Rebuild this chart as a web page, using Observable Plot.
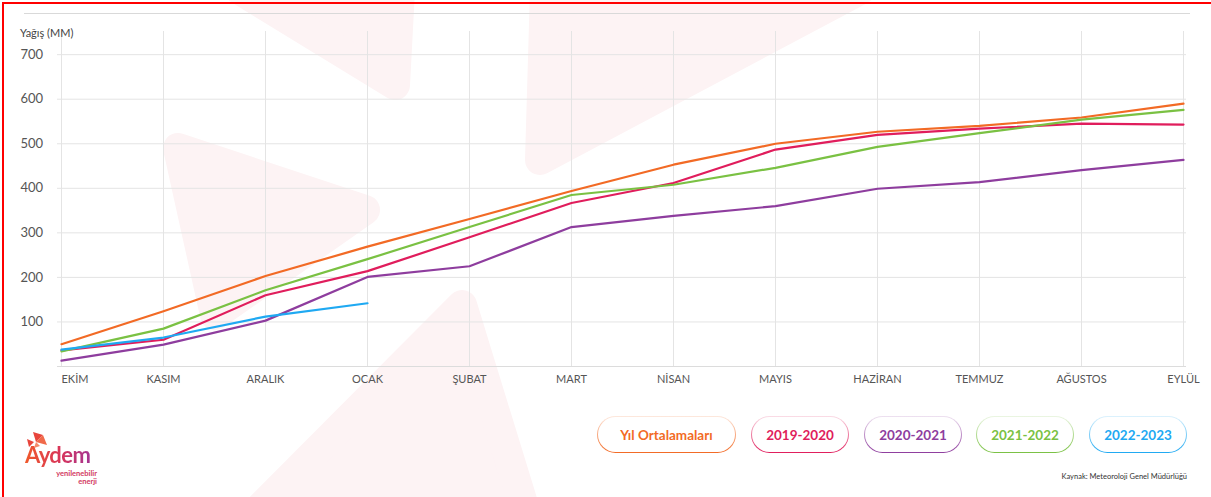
<!DOCTYPE html>
<html>
<head>
<meta charset="utf-8">
<script src="https://cdn.jsdelivr.net/npm/d3@7"></script>
<script src="https://cdn.jsdelivr.net/npm/@observablehq/plot@0.6"></script>
<style>
  html, body { margin: 0; padding: 0; background: #fff; }
  #wrap { position: relative; width: 1211px; height: 497px; overflow: hidden; font-family: Lato, "Open Sans", sans-serif; }
  #frame { position: absolute; left: 2px; top: 2px; right: -10px; bottom: -10px; border-top: 2px solid #ff0000; border-left: 2px solid #ff0000; z-index: 5; pointer-events: none; }
  #topline { position: absolute; left: 24px; top: 13px; width: 1166px; height: 1px; background: #d9d9d9; z-index: 2; }
  #wm { position: absolute; left: 0; top: 0; z-index: 0; }
  #chart { position: absolute; left: 0; top: 0; z-index: 1; }
  #ylabel { position: absolute; left: 20px; top: 26px; font-size: 11px; color: #444; z-index: 2; }
  .pill { position: absolute; top: 416px; height: 37px; box-sizing: border-box; border-radius: 19px; border: 1.5px solid transparent;
          display: flex; align-items: center; justify-content: center; font-weight: 700; font-size: 13.5px; z-index: 2; }
  #source { position: absolute; right: 24px; top: 472px; font-size: 7.5px; color: #333; z-index: 2; }
  #logo { position: absolute; left: 22px; top: 431px; width: 90px; height: 64px; z-index: 2; }
  #logo .word { position: absolute; left: 3px; top: 11px; font-size: 22px; font-weight: 700; letter-spacing: -0.6px; line-height: 26px;
                background: linear-gradient(90deg, #f0592a, #d8345a 55%, #a53592); -webkit-background-clip: text; background-clip: text; color: transparent; }
  #logo .sub { position: absolute; right: 15px; top: 39px; font-size: 7.5px; font-weight: 700; line-height: 8px; text-align: right; color: #d23a62; }
</style>
</head>
<body>
<div id="wrap">
  <svg id="wm" width="1211" height="497">
    <g fill="#fdf3f4" stroke="#fdf3f4" stroke-width="30" stroke-linejoin="round">
      <polygon points="240,-10 400,-10 395,85"/>
      <polygon points="545,-10 860,-10 540,160"/>
      <polygon points="178,148 365,210 215,315"/>
      <polygon points="462,305 258,510 525,510"/>
    </g>
  </svg>
  <div id="chart"></div>
  <div id="topline"></div>
  <div id="ylabel">Yağış (MM)</div>
  <div id="legend"></div>
  <div id="logo">
    <svg width="30" height="18" style="position:absolute;left:2px;top:0">
      <polygon points="9,1 19,4 12,11" fill="#e8453c"/>
      <polygon points="19,4 23,14 12,11" fill="#f06a4a"/>
      <polygon points="3,8 10,11 5,16" fill="#e8453c"/>
      <polygon points="12,11 16,15 10,17" fill="#f48a6a"/>
    </svg>
    <div class="word">Aydem</div>
    <div class="sub">yenilenebilir<br>enerji</div>
  </div>
  <div id="source">Kaynak: Meteoroloji Genel Müdürlüğü</div>
  <div id="frame"></div>
</div>
<script>
// ---- data ----
const months = ["EKİM","KASIM","ARALIK","OCAK","ŞUBAT","MART","NİSAN","MAYIS","HAZİRAN","TEMMUZ","AĞUSTOS","EYLÜL"];
const yTicks = [100, 200, 300, 400, 500, 600, 700];
const seriesNames = ["Yıl Ortalamaları", "2019-2020", "2020-2021", "2021-2022", "2022-2023"];
const seriesColors = ["#f26a25", "#e01d5c", "#8e3d9e", "#7ac143", "#1fa9f2"];
const yilOrtalamalari = [50, 124, 203, 269, 331, 394, 453, 500, 527, 540, 559, 590];
const s2019_2020 = [36, 60, 160, 214, 290, 367, 412, 487, 520, 534, 545, 543];
const s2020_2021 = [13, 49, 103, 201, 225, 313, 338, 360, 399, 414, 441, 464];
const s2021_2022 = [34, 85, 171, 241, 313, 385, 408, 446, 493, 524, 554, 576];
const s2022_2023 = [38, 65, 112, 142];

const seriesValues = [yilOrtalamalari, s2019_2020, s2020_2021, s2021_2022, s2022_2023];
const data = seriesValues.flatMap((vals, k) =>
  vals.map((v, i) => ({ month: months[i], value: v, series: seriesNames[k] })));

const chart = Plot.plot({
  width: 1211,
  height: 400,
  marginLeft: 57,
  marginRight: 25,
  marginTop: 31,
  marginBottom: 34,
  style: { background: "transparent", fontFamily: "Lato, 'Open Sans', sans-serif" },
  x: { type: "point", domain: months, padding: 0, label: null },
  y: { domain: [0, 752], label: null },
  color: { domain: seriesNames, range: seriesColors },
  marks: [
    Plot.gridX(months, { stroke: "#e4e4e4", strokeOpacity: 1, strokeWidth: 1 }),
    Plot.gridY(yTicks, { stroke: "#e4e4e4", strokeOpacity: 1, strokeWidth: 1 }),
    Plot.ruleY([0], { stroke: "#dcdcdc", strokeWidth: 1.2 }),
    Plot.axisY(yTicks, { tickSize: 0, tickPadding: 37, textAnchor: "start", fontSize: 13, fill: "#555", label: null }),
    Plot.axisX(months.slice(1), { tickSize: 0, tickPadding: 9, fontSize: 11, fill: "#555", label: null }),
    Plot.axisX(months.slice(0, 1), { tickSize: 0, tickPadding: 9, fontSize: 11, fill: "#555", textAnchor: "start", label: null }),
    Plot.lineY(data, { x: "month", y: "value", z: "series", stroke: "series", strokeWidth: 2.2, curve: "linear" })
  ]
});
document.getElementById("chart").appendChild(chart);

// ---- legend pills ----
const pillLeft = [597, 751, 864, 976, 1089];
const pillWidth = [139, 98, 98, 98, 98];
const legend = document.getElementById("legend");
const hexA = (hex, a) => {
  const n = parseInt(hex.slice(1), 16);
  return `rgba(${(n >> 16) & 255},${(n >> 8) & 255},${n & 255},${a})`;
};
seriesNames.forEach((name, i) => {
  const d = document.createElement("div");
  d.className = "pill";
  d.textContent = name;
  d.style.left = pillLeft[i] + "px";
  d.style.width = pillWidth[i] + "px";
  d.style.color = seriesColors[i];
  d.style.background = `linear-gradient(#fff,#fff) padding-box, linear-gradient(to bottom, ${hexA(seriesColors[i], 0.15)}, ${seriesColors[i]}) border-box`;
  legend.appendChild(d);
});
</script>
</body>
</html>
